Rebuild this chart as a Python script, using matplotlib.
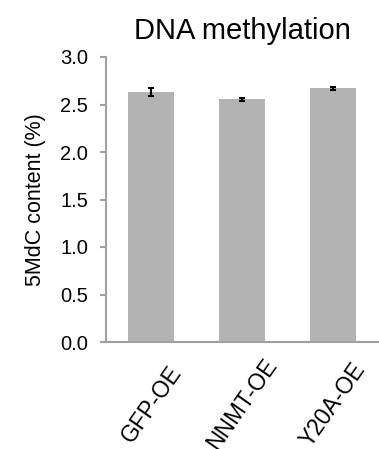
import numpy as np
import matplotlib.pyplot as plt

plt.rcParams['font.family'] = ['Liberation Sans', 'DejaVu Sans']

groups = ['GFP-OE', 'NNMT-OE', 'Y20A-OE']
content = [2.63, 2.555, 2.67]
errors = [0.04, 0.015, 0.015]

fig = plt.figure(figsize=(3.79, 4.49), dpi=100)
ax = fig.add_axes([106 / 379, 1 - 342 / 449, 272 / 379, 285 / 449])

x = np.arange(len(groups))
ax.bar(x, content, width=0.51, color='#b3b3b3',
       yerr=errors, capsize=2.5, error_kw=dict(ecolor='black', elinewidth=1.5, capthick=1.5))

ax.set_xlim(-0.5, 2.5)
ax.set_ylim(0, 3.0)
ax.set_yticks(np.arange(0, 3.01, 0.5))
ax.set_yticklabels([f'{v:.1f}' for v in np.arange(0, 3.01, 0.5)])
# rotated labels centred under each bar, like Excel does
ax.set_xticks(x)
ax.set_xticklabels(groups, rotation=55, ha='center', va='center', rotation_mode='anchor')

for s in ['top', 'right']:
    ax.spines[s].set_visible(False)
for s in ['left', 'bottom']:
    ax.spines[s].set_color('#a0a0a0')
    ax.spines[s].set_linewidth(1.5)
ax.tick_params(axis='y', length=4, width=1.5, color='#a0a0a0', labelsize=14.5, pad=9)
ax.tick_params(axis='x', length=0, labelsize=16.5, pad=45)

ax.set_ylabel('5MdC content (%)', fontsize=15.5, labelpad=10)
ax.set_title('DNA methylation', fontsize=21, pad=13)

fig.savefig('out.png', dpi=100)
